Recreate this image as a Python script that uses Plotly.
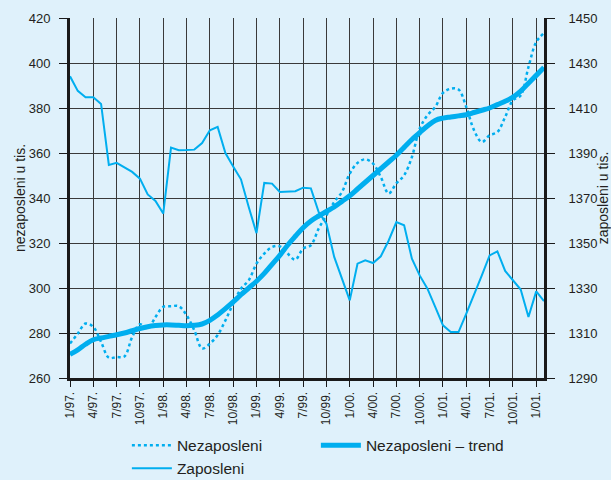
import plotly.graph_objects as go

months = list(range(62))
tick_pos = list(range(0, 61, 3))
tick_labels = ["1/97.", "4/97.", "7/97.", "10/97.", "1/98.", "4/98.", "7/98.", "10/98.",
               "1/99.", "4/99.", "7/99.", "10/99.", "1/00.", "4/00.", "7/00.", "10/00.",
               "1/01.", "4/01.", "7/01.", "10/01.", "1/01."]

nezaposleni = [275.3, 279.7, 284.2, 282.7, 276.0, 269.0, 269.3, 269.6, 278.2, 283.9,
               282.0, 287.1, 291.6, 291.9, 291.9, 287.9, 281.2, 273.1, 275.3, 279.1,
               285.6, 293.0, 299.7, 303.4, 310.8, 315.3, 318.2, 318.5, 315.3, 312.6,
               317.5, 319.0, 326.4, 332.3, 338.2, 342.7, 350.8, 355.6, 357.2, 355.3,
               349.3, 342.0, 346.5, 350.1, 358.2, 370.8, 376.8, 380.4, 386.7, 388.6,
               388.2, 380.4, 370.1, 364.9, 367.9, 369.3, 376.0, 383.4, 385.6, 398.2,
               409.3, 413.3]

trend = [270.5, 272.5, 275.0, 277.0, 277.8, 278.5, 279.2, 280.0, 281.0, 282.0,
         282.8, 283.3, 283.6, 283.6, 283.4, 283.2, 283.4, 284.0, 285.6, 288.0,
         290.8, 293.8, 297.0, 300.0, 303.0, 306.5, 310.5, 314.5, 319.0, 323.0,
         326.8, 329.8, 332.0, 334.0, 336.0, 338.5, 341.0, 344.0, 347.0, 350.0,
         353.0, 356.0, 359.0, 362.5, 366.0, 369.0, 372.0, 374.5, 375.5, 376.0,
         376.5, 377.0, 378.0, 379.0, 380.0, 381.5, 383.0, 384.8, 387.5, 391.0,
         394.5, 398.0]

zaposleni = [1424.1, 1417.6, 1414.8, 1414.8, 1411.8, 1384.7, 1385.6, 1383.5, 1381.6, 1378.6,
             1371.6, 1368.7, 1363.1, 1392.4, 1391.2, 1391.3, 1391.5, 1394.4, 1400.1, 1401.6,
             1390.0, 1384.0, 1378.3, 1366.0, 1354.4, 1376.7, 1376.4, 1372.7, 1372.8, 1373.0,
             1374.6, 1374.3, 1363.8, 1358.6, 1343.8, 1334.4, 1324.5, 1340.8, 1342.3, 1341.1,
             1344.1, 1351.0, 1359.3, 1357.9, 1343.0, 1335.6, 1329.7, 1321.6, 1313.4, 1310.4,
             1310.4, 1318.6, 1326.8, 1335.6, 1344.5, 1346.3, 1337.6, 1333.4, 1329.3, 1317.1,
             1328.5, 1324.2]

CYAN = "#00aeef"
BG = "#dff1fb"
FONT = "Liberation Sans, Arial, sans-serif"
TXT = "#231f20"
AX = "#1a1a1a"

fig = go.Figure()
fig.add_trace(go.Scatter(x=months, y=nezaposleni, name="Nezaposleni", mode="lines",
                         line=dict(color=CYAN, width=2.5, dash="dot", shape="spline")))
fig.add_trace(go.Scatter(x=months, y=trend, name="Nezaposleni – trend", mode="lines",
                         line=dict(color=CYAN, width=5, shape="spline")))
fig.add_trace(go.Scatter(x=months, y=zaposleni, name="Zaposleni", mode="lines", yaxis="y2",
                         line=dict(color=CYAN, width=2)))

fig.update_layout(
    width=611, height=480,
    paper_bgcolor=BG, plot_bgcolor=BG,
    margin=dict(l=70, r=67, t=18, b=102, autoexpand=False),
    font=dict(family=FONT, size=13, color=TXT),
    showlegend=True,
    legend=dict(orientation="h", x=0.12, xanchor="left", xref="paper",
                y=0.107, yanchor="top", yref="container",
                entrywidth=134, font=dict(size=15.5, color=TXT),
                bgcolor="rgba(0,0,0,0)", itemwidth=40),
    xaxis=dict(range=[0, 61], tickvals=tick_pos, ticktext=tick_labels, tickangle=-90,
               showgrid=True, gridcolor="#3a3a3a", gridwidth=1.2,
               showline=True, linecolor=AX, linewidth=3,
               ticks="outside", ticklen=6, tickcolor=AX,
               tickfont=dict(size=12), zeroline=False, automargin=False),
    yaxis=dict(range=[260, 420], tick0=260, dtick=20, showgrid=True, gridcolor="#3a3a3a",
               gridwidth=1.2, showline=True, linecolor=AX, linewidth=3,
               ticks="outside", ticklen=8, tickcolor=AX, zeroline=False,
               ticklabelstandoff=6, automargin=False, tickfont=dict(size=13),
               title=dict(text="nezaposleni u tis.", standoff=0, font=dict(size=14))),
    yaxis2=dict(range=[1290, 1450], tick0=1290, dtick=20, overlaying="y", side="right",
                showgrid=False, showline=True, linecolor=AX, linewidth=3,
                ticks="outside", ticklen=8, tickcolor=AX, zeroline=False,
                ticklabelstandoff=11, automargin=False, tickfont=dict(size=13),
                title=dict(text="zaposleni u tis.", standoff=4, font=dict(size=14))),
)

fig.write_html("out.html", config={"displayModeBar": False},
               post_script="document.body.style.margin='0';")
